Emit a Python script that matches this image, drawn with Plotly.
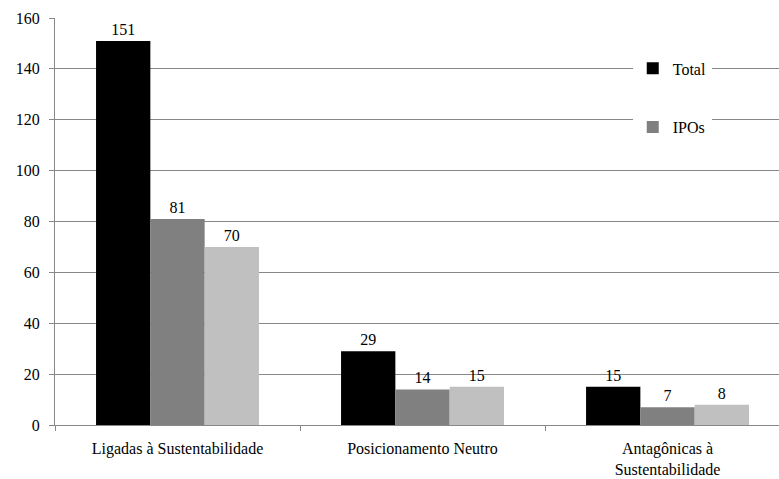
import plotly.graph_objects as go

categories = ["Ligadas à Sustentabilidade", "Posicionamento Neutro", "Antagônicas à<br>Sustentabilidade"]
total = [151, 29, 15]
ipos = [81, 14, 7]
outros = [70, 15, 8]

FONT = "Times New Roman"

fig = go.Figure()
fig.add_trace(go.Bar(x=categories, y=total, name="Total", marker_color="#000000",
                     text=total, textposition="outside", legendgroup="a"))
fig.add_trace(go.Bar(x=categories, y=ipos, name="IPOs", marker_color="#808080",
                     text=ipos, textposition="outside", legendgroup="b"))
fig.add_trace(go.Bar(x=categories, y=outros, name="Outros", marker_color="#c0c0c0",
                     text=outros, textposition="outside", showlegend=False))

fig.update_traces(textfont=dict(family=FONT, size=16, color="#000"), cliponaxis=False,
                  marker_line_width=0)

fig.update_layout(
    width=779, height=479,
    margin=dict(l=55, r=0, t=18, b=54, autoexpand=False),
    paper_bgcolor="white", plot_bgcolor="white",
    barmode="group", bargap=0.335, bargroupgap=0,
    font=dict(family=FONT, size=16, color="#000"),
    showlegend=True,
    legend=dict(x=0.798, y=0.918, xanchor="left", yanchor="top",
                bgcolor="white", font=dict(size=16, family=FONT),
                traceorder="grouped", tracegroupgap=35,
                itemwidth=30),
    xaxis=dict(range=[-0.5, 2.455], showline=True, linecolor="#888", linewidth=1,
               ticks="outside", tickson="boundaries", ticklen=5, tickcolor="#888",
               ticklabelstandoff=9,
               tickfont=dict(family=FONT, size=16), automargin=False),
    yaxis=dict(range=[0, 160], dtick=20, showgrid=True, gridcolor="#888", gridwidth=1,
               showline=True, linecolor="#888", linewidth=1, ticks="outside",
               ticklen=5, tickcolor="#888", zeroline=False, automargin=False,
               ticklabelstandoff=6,
               tickfont=dict(family=FONT, size=16)),
)

post = ("document.body.style.margin='0';document.body.style.padding='0';"
        "Plotly.relayout('{plot_id}', {width:779, height:479});")
fig.write_html("out.html", post_script=post,
               config={"responsive": False, "displayModeBar": False})
